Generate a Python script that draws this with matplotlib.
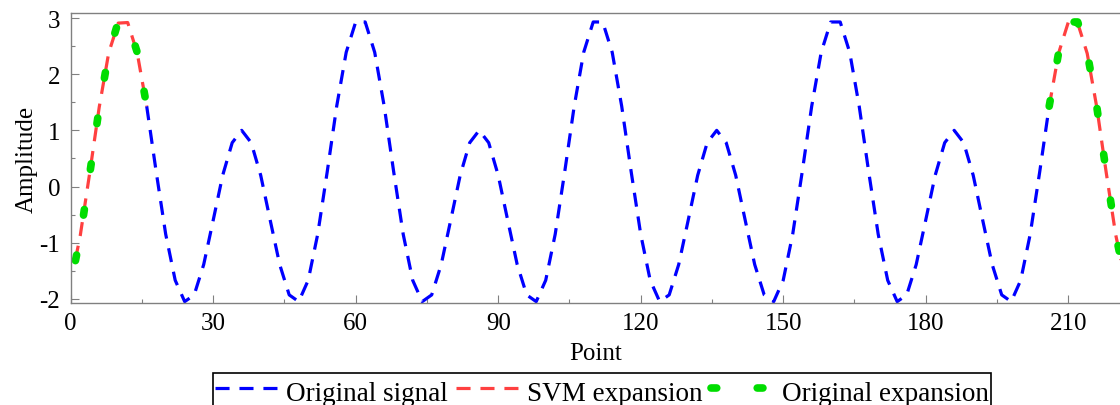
import matplotlib
matplotlib.use('Agg')
import matplotlib.pyplot as plt
from matplotlib.ticker import MultipleLocator

plt.rcParams['font.family'] = 'Liberation Serif'
plt.rcParams['font.size'] = 18
plt.rcParams['axes.unicode_minus'] = False

# ---- data ----
# original signal, sampled every 2 points from 16 to 206
sig_x = list(range(16, 207, 2))
signal = [1.43, 0.26, -0.85, -1.67, -2.05, -1.93, -1.39, -0.60, 0.20, 0.78, 1.00, 0.78, 0.20,
          -0.60, -1.39, -1.93, -2.05, -1.67, -0.85, 0.26, 1.43, 2.39, 2.93, 2.93, 2.39,
          1.43, 0.26, -0.85, -1.67, -2.05, -1.93, -1.39, -0.60, 0.20, 0.78, 1.00, 0.78, 0.20,
          -0.60, -1.39, -1.93, -2.05, -1.67, -0.85, 0.26, 1.43, 2.39, 2.93, 2.93, 2.39,
          1.43, 0.26, -0.85, -1.67, -2.05, -1.93, -1.39, -0.60, 0.20, 0.78, 1.00, 0.78, 0.20,
          -0.60, -1.39, -1.93, -2.05, -1.67, -0.85, 0.26, 1.43, 2.39, 2.93, 2.93, 2.39,
          1.43, 0.26, -0.85, -1.67, -2.05, -1.93, -1.39, -0.60, 0.20, 0.78, 1.00, 0.78, 0.20,
          -0.60, -1.39, -1.93, -2.05, -1.67, -0.85, 0.26, 1.43]

# SVM expansion at both ends
svm_left_x = [1, 2, 4, 6, 8, 10, 12, 14, 16]
svm_left = [-1.30, -0.88, 0.24, 1.41, 2.38, 2.91, 2.92, 2.38, 1.43]
svm_right_x = [206, 208, 210, 212, 214, 216, 218, 220, 222]
svm_right = [1.43, 2.38, 2.92, 2.91, 2.37, 1.42, 0.25, -0.86, -1.66]

# original (true) expansion at both ends
orig_left_x = [1, 2, 4, 6, 8, 10, 12, 14, 16]
orig_left = [-1.32, -0.90, 0.22, 1.40, 2.37, 2.93, 2.93, 2.39, 1.43]
orig_right_x = [206, 208, 210, 212, 214, 216, 218, 220, 222]
orig_right = [1.43, 2.39, 2.93, 2.93, 2.39, 1.43, 0.26, -0.85, -1.67]

# ---- figure ----
W, H = 1120, 406
fig = plt.figure(figsize=(W / 100, H / 100), dpi=100)
ax = fig.add_axes([70.7 / W, 101.7 / H, 221 * 4.75 / W, 290.3 / H])

dash = (4.4, 3.1)
h1, = ax.plot(sig_x, signal, color='#0000ff', lw=2.3, dashes=dash, label='Original signal')
h2, = ax.plot(svm_left_x, svm_left, color='#ff4040', lw=2.3, dashes=dash, label='SVM expansion')
ax.plot(svm_right_x, svm_right, color='#ff4040', lw=2.3, dashes=dash)
h3, = ax.plot(orig_left_x, orig_left, color='#00dd00', lw=5.5, dashes=(0.75, 5.3),
              dash_capstyle='round', label='Original expansion')
ax.plot(orig_right_x, orig_right, color='#00dd00', lw=5.5, dashes=(0.75, 5.3),
        dash_capstyle='round')

ax.set_xlim(0, 221)
ax.set_ylim(-2.08, 3.09)
ax.xaxis.set_major_locator(MultipleLocator(30))
ax.xaxis.set_minor_locator(MultipleLocator(15))
ax.yaxis.set_major_locator(MultipleLocator(1))
ax.yaxis.set_minor_locator(MultipleLocator(0.5))

for s in ax.spines.values():
    s.set_color('#808080')
    s.set_linewidth(1.0)
ax.spines['right'].set_visible(False)

ax.tick_params(which='both', direction='in', color='#808080', width=0.8,
               top=False, right=False, labelcolor='black')
ax.tick_params(which='major', length=6)
ax.tick_params(which='minor', length=3)
ax.tick_params(axis='x', pad=6)
ax.tick_params(axis='y', pad=7.5)

ax.set_xlabel('Point')
ax.set_ylabel('Amplitude')
ax.xaxis.set_label_coords(0.5, -0.132)
ax.yaxis.set_label_coords(-0.031, 0.5)

leg = ax.legend(handles=[h1, h2, h3], loc='upper center',
                bbox_to_anchor=(602 / W, 1 - 374 / H), bbox_transform=fig.transFigure,
                ncol=3, frameon=True, fancybox=False, edgecolor='black', framealpha=1,
                handlelength=2.3, handletextpad=0.3, columnspacing=0.33,
                handleheight=1.3, borderpad=0.1, borderaxespad=0, fontsize=19.5)
leg.get_frame().set_linewidth(1.2)

fig.savefig('out.png', dpi=100)
